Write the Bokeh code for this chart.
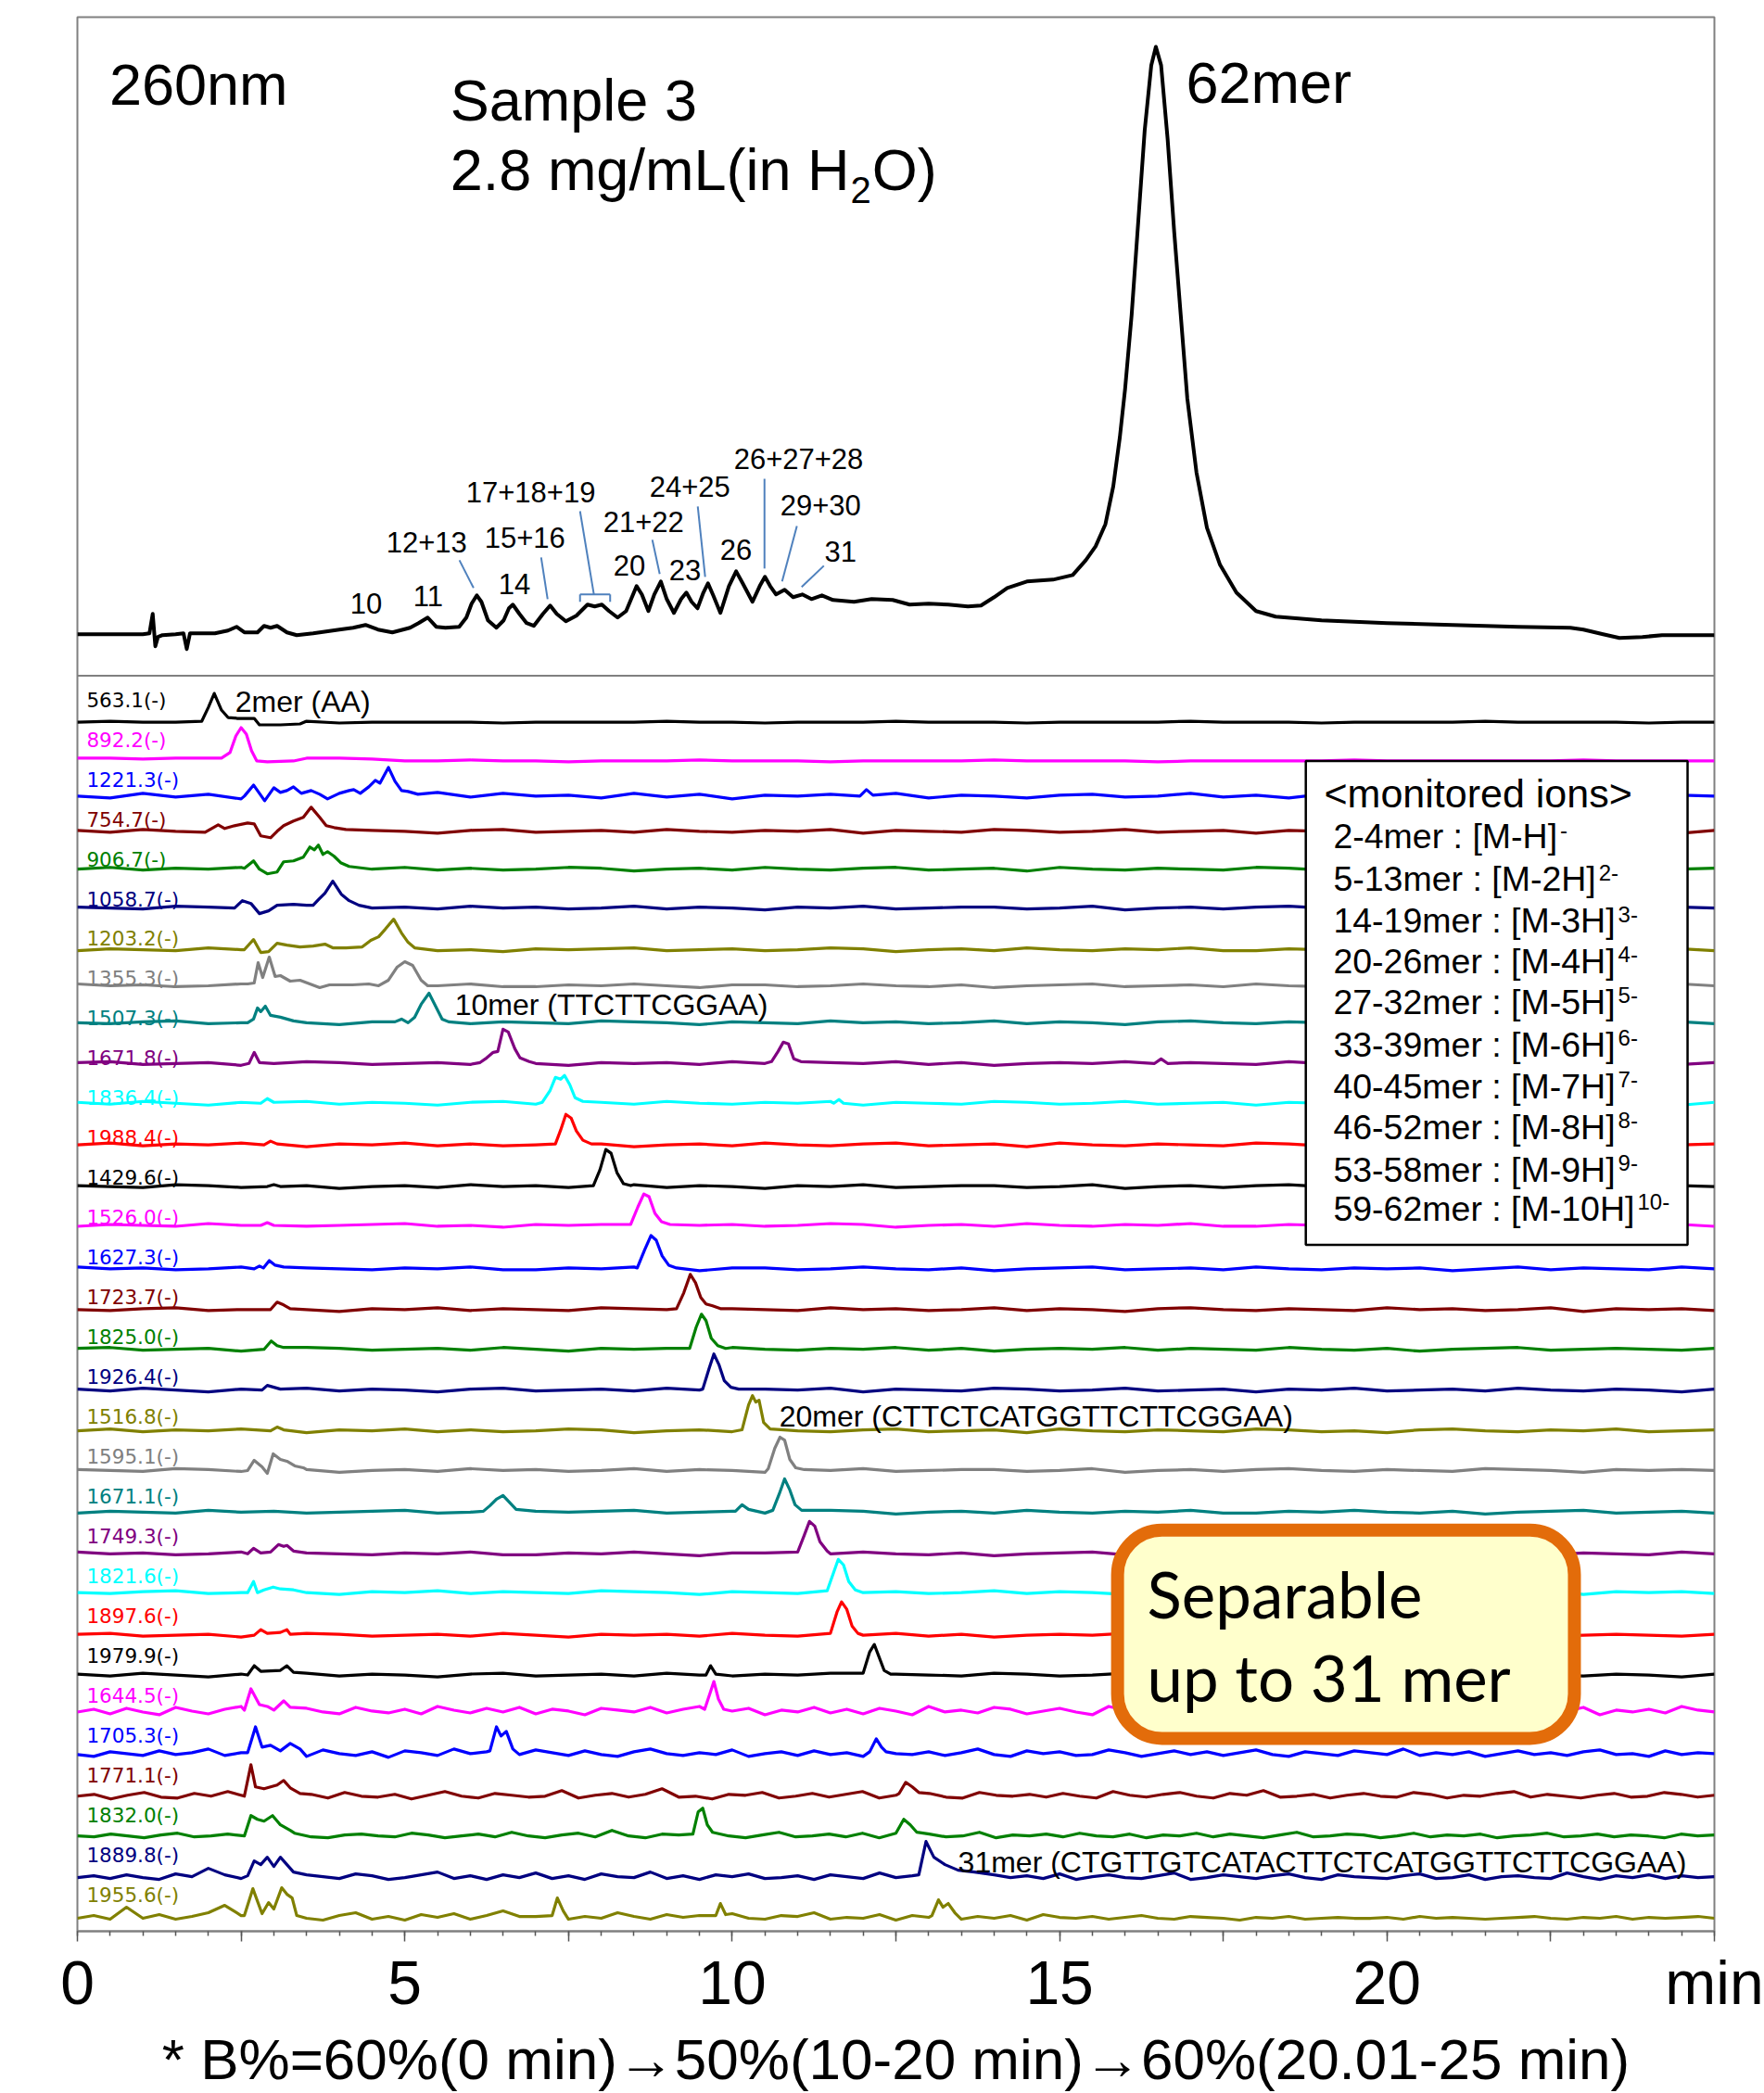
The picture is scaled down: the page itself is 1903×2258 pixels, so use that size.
import numpy as np
from bokeh.plotting import figure
from bokeh.models import Range1d, FixedTicker, Span, BoxAnnotation, Label, ColumnDataSource
from bokeh.core.properties import value
from bokeh.embed import file_html
from bokeh.resources import INLINE

# ---------------- UV 260 nm chromatogram (time in min, absorbance a.u.) ----------------
UV_TIME = [0.0, 0.5, 1.0, 1.1, 1.15, 1.19, 1.23, 1.3, 1.5, 1.62,
           1.67, 1.72, 1.9, 2.1, 2.3, 2.43, 2.55, 2.75, 2.85, 2.95,
           3.05, 3.2, 3.35, 3.6, 3.8, 4.0, 4.21, 4.40, 4.59, 4.81,
           5.08, 5.21, 5.35, 5.48, 5.62, 5.83, 5.94, 6.02, 6.10, 6.17,
           6.27, 6.40, 6.51, 6.59, 6.65, 6.75, 6.86, 6.97, 7.11, 7.22,
           7.32, 7.46, 7.62, 7.79, 7.90, 8.01, 8.12, 8.25, 8.38, 8.54,
           8.62, 8.72, 8.81, 8.91, 9.00, 9.11, 9.22, 9.30, 9.38, 9.47,
           9.56, 9.63, 9.71, 9.82, 9.95, 10.06, 10.16, 10.31, 10.42, 10.50,
           10.58, 10.67, 10.80, 10.93, 11.07, 11.21, 11.37, 11.54, 11.86, 12.13,
           12.45, 12.71, 13.0, 13.3, 13.6, 13.8, 14.0, 14.2, 14.5, 14.9,
           15.2, 15.4, 15.55, 15.7, 15.82, 15.92, 16.0, 16.1, 16.2, 16.3,
           16.4, 16.47, 16.55, 16.65, 16.75, 16.85, 16.95, 17.09, 17.25, 17.45,
           17.7, 18.0, 18.3, 19.0, 20.0, 21.0, 22.0, 22.8, 23.0, 23.3,
           23.55, 23.9, 24.2, 25.0]
UV_ABS = [0, 0, 0, 1, 22, -13, -3, -1, 0, 1,
          -16, 1, 1, 1, 4, 8, 2, 2, 9, 7,
          9, 2, -1, 1, 3, 5, 7, 10, 5, 2,
          7, 12, 18, 8, 7, 8, 18, 33, 42, 35,
          15, 7, 15, 28, 32, 22, 12, 9, 22, 31,
          22, 14, 20, 32, 30, 32, 25, 18, 25, 52,
          43, 25, 43, 57, 38, 23, 38, 45, 35, 28,
          45, 55, 42, 23, 52, 68, 55, 35, 52, 62,
          52, 43, 48, 40, 43, 38, 42, 37, 35, 38,
          37, 32, 33, 32, 30, 31, 40, 50, 57, 59,
          64, 80, 95, 119, 160, 213, 265, 345, 445, 545,
          615, 635, 615, 535, 435, 345, 255, 175, 115, 75,
          45, 25, 19, 15, 12, 10, 8, 7, 5, 0,
          -4, -3, -1, -1]

# ---------------- extracted ion chromatograms ----------------
ION_MZ = ["563.1(-)", "892.2(-)", "1221.3(-)", "754.7(-)", "906.7(-)", "1058.7(-)",
          "1203.2(-)", "1355.3(-)", "1507.3(-)", "1671.8(-)", "1836.4(-)", "1988.4(-)",
          "1429.6(-)", "1526.0(-)", "1627.3(-)", "1723.7(-)", "1825.0(-)", "1926.4(-)",
          "1516.8(-)", "1595.1(-)", "1671.1(-)", "1749.3(-)", "1821.6(-)", "1897.6(-)",
          "1979.9(-)", "1644.5(-)", "1705.3(-)", "1771.1(-)", "1832.0(-)", "1889.8(-)",
          "1955.6(-)"]

# peak segments, "time:intensity" pairs, segments separated by "|"
ION_PEAKS = [
    "1.9:1 2.0:16 2.09:31 2.2:13 2.3:5 2.45:4 2.7:4 2.78:-3 3.1:-3 3.4:-2",
    "2.2:2 2.33:8 2.42:26 2.5:35 2.58:28 2.66:10 2.74:-1 2.9:-2 3.3:-1",
    "2.55:0 2.69:12 2.78:3 2.86:-5 3.0:9 3.1:4 3.2:6 3.3:10 3.42:3 3.57:6 3.7:2 3.82:-3 4.0:3 4.15:6 4.22:7 4.32:3 4.45:10 4.55:17 4.62:14 4.75:31 4.85:16 4.95:6 5.05:5 5.2:2 | 11.95:0 12.05:7 12.15:1 | 22.3:0 22.4:5 22.5:0",
    "1.95:-1 2.05:3 2.15:7 2.25:3 2.4:6 2.6:9 2.7:8 2.8:-5 2.95:-7 3.05:0 3.15:6 3.3:11 3.45:15 3.57:26 3.7:15 3.8:6 3.92:4 4.1:2",
    "2.55:1 2.69:9 2.78:0 2.9:-5 3.05:-3 3.15:8 3.3:9 3.45:13 3.55:24 3.62:21 3.68:26 3.75:16 3.82:19 3.92:14 4.02:7 4.15:3",
    "2.4:0 2.52:8 2.65:5 2.78:-6 2.92:-3 3.05:3 3.3:4 3.5:3 3.6:3 3.68:9 3.78:16 3.9:29 4.03:15 4.15:8 4.3:3",
    "2.55:0 2.69:11 2.8:-3 2.92:-2 3.05:7 3.2:5 3.4:3 3.6:4 3.78:6 3.9:2 4.1:2 4.35:3 4.48:10 4.6:14 4.7:22 4.83:33 4.95:18 5.05:8 5.15:2",
    "2.6:2 2.7:3 2.76:25 2.83:9 2.93:31 3.02:10 3.1:11 3.25:5 3.4:6 3.55:2 3.7:-2 3.85:1 4.2:1 4.45:2 4.6:0 4.75:6 4.88:20 5.0:26 5.12:22 5.25:6 5.35:0",
    "2.6:0 2.69:4 2.75:16 2.8:12 2.87:18 2.95:8 3.1:6 3.3:2 | 4.85:1 4.95:4 5.05:0 5.15:6 5.25:20 5.37:32 5.47:18 5.57:4 5.67:1",
    "2.62:0 2.7:12 2.78:1 | 6.15:1 6.25:6 6.35:12 6.42:13 6.5:37 6.58:34 6.68:16 6.76:6 6.9:2 | 10.6:2 10.7:13 10.78:23 10.86:21 10.94:5 11.05:2 | 16.45:0 16.55:5 16.65:0",
    "2.8:0 2.9:5 3.0:1 | 7.1:1 7.22:14 7.3:28 7.38:26 7.44:30 7.52:20 7.6:6 7.72:2 | 11.55:0 11.63:4 11.7:0",
    "2.85:0 2.95:4 3.05:1 | 7.3:1 7.38:16 7.46:33 7.54:29 7.62:15 7.72:5 7.85:1",
    "2.9:0 3.0:2 3.1:0 | 7.88:1 7.98:18 8.07:40 8.15:36 8.24:15 8.34:3 8.45:1",
    "2.8:0 2.9:3 3.0:0 | 8.45:1 8.56:20 8.65:34 8.73:31 8.82:13 8.92:4 9.05:1",
    "2.7:0 2.78:3 2.84:1 2.93:9 3.02:4 3.15:2 | 8.55:1 8.66:20 8.76:36 8.84:31 8.93:14 9.03:4 9.15:1",
    "2.95:0 3.05:8 3.15:5 3.25:1 | 9.15:1 9.26:18 9.36:38 9.44:29 9.52:13 9.6:6 9.7:4 9.82:1",
    "2.85:0 2.96:9 3.05:4 3.15:2 | 9.35:1 9.45:24 9.53:38 9.6:31 9.68:12 9.78:4 9.9:1",
    "2.82:0 2.9:5 3.0:3 3.1:1 | 9.55:1 9.65:24 9.72:39 9.8:27 9.88:10 9.98:3 10.1:1",
    "2.95:0 3.05:4 3.15:1 | 10.15:1 10.25:28 10.31:38 10.36:31 10.41:33 10.48:9 10.58:2",
    "2.6:0 2.7:11 2.82:4 2.9:-3 2.99:18 3.1:12 3.2:10 3.32:5 3.45:3 | 10.55:2 10.65:24 10.73:36 10.8:33 10.88:12 10.97:3 11.1:1",
    "6.2:1 6.3:7 6.4:14 6.5:18 6.58:12 6.7:3 | 10.05:1 10.15:8 10.25:3 | 10.62:2 10.72:20 10.8:36 10.88:24 10.96:8 11.06:2",
    "2.6:0 2.69:6 2.8:1 2.95:2 3.07:10 3.15:8 3.2:9 3.3:3 | 11.0:2 11.1:20 11.18:35 11.26:30 11.34:13 11.45:3",
    "2.6:0 2.69:12 2.75:0 2.85:3 2.99:6 3.1:4 3.3:3 | 11.45:2 11.55:22 11.62:36 11.7:30 11.78:12 11.88:3",
    "2.7:0 2.8:6 2.9:2 3.1:3 3.2:6 3.25:1 | 11.5:2 11.6:25 11.67:36 11.75:28 11.83:10 11.92:2",
    "2.6:0 2.7:10 2.8:4 3.1:5 3.2:10 3.3:3 | 9.6:0 9.67:10 9.75:1 | 12.0:2 12.1:25 12.17:33 12.24:20 12.32:5 12.42:1",
    "2.55:2 2.65:25 2.78:8 2.9:6 | 3.15:12 3.25:5 | 9.58:3 9.66:20 9.72:33 9.79:14 9.87:3",
    "2.6:2 2.72:30 2.82:8 2.95:10 3.1:4 3.25:12 3.4:6 | 6.3:4 6.4:30 6.47:20 6.55:25 6.65:6 | 12.1:3 12.2:17 12.28:8 12.35:3",
    "2.55:0 2.65:34 2.72:10 2.85:8 3.05:12 3.15:17 3.25:9 3.4:3 | 12.55:3 12.65:15 12.75:10 12.85:4",
    "2.55:0 2.65:22 2.75:18 2.85:16 2.98:22 3.1:12 3.25:6 | 9.4:2 9.48:26 9.55:30 9.62:12 9.7:4 | 12.5:3 12.62:18 12.72:12 12.82:4",
    "2.6:2 2.7:18 2.8:14 2.9:22 3.0:12 3.1:22 3.2:14 3.3:6 | 12.85:3 12.96:39 13.08:22 13.25:14 13.45:8 13.7:6 14.0:3",
    "2.55:3 2.68:32 2.82:5 2.92:17 3.0:10 3.12:33 3.2:26 3.28:22 3.35:3 | 7.25:3 7.33:22 7.42:8 | 9.75:3 9.82:16 9.9:4 | 13.05:3 13.15:20 13.22:12 13.3:16 13.4:6",
]

# baseline noise (evenly spaced over 0-25 min)
NOISE = [
    "0 1 0 0 1 0 0 1 -1 0 0 0 0 -1 0 0 0 0 1 0 0 -1 0 0 0 1 0 0 0 -1 0 0 0 0 1 0 0 0 -1 0 0 0 0 1 0 0 0 0 -1 0 0",
    "1 -1 2 0 -2 1 0 2 -1 1 0 -2 1 2 -1 0 1 -1 2 0 -1 1 0 2 -2 1 0 -1 2 1 -1 0 2 -1 0 1 -2 1 0 2 -1 0 1 -1 2 0 -1 1 0 -2 1",
    "0 2 -1 1 0 2 -1 -2 1 0 2 -1 1 -1 0 2 1 -2 0 1 -1 2 0 -1 1 2 -1 0 1 -2 2 0 -1 1 0 -1 2 1 -1 0 -2 1 2 0 -1 1 0 2 -1 0 1",
    "1 0 -1 2 1 -1 0 1 -2 0 1 -1 2 0 1 -1 0 2 -1 1 0 -2 1 0 2 -1 0 1 1 -1 0 2 -2 0 1 -1 1 2 0 -1 1 0 -1 2 1 0 -2 1 0 1 0",
    "-1 1 0 -1 2 0 1 -1 0 1 2 -1 0 -2 1 0 1 2 -1 0 1 -1 0 2 1 -2 0 1 -1 2 0 -1 1 0 2 -1 -1 1 0 2 0 -1 1 -2 0 1 2 -1 0 1 -1",
    "2 0 1 -1 0 2 -1 1 0 -1 1 0 2 -1 -1 1 0 2 0 -2 1 1 -1 0 2 0 -1 1 -2 0 1 2 -1 0 1 -1 2 0 -1 1 0 1 -2 0 2 -1 1 0 -1 2 0",
    "0 -1 1 2 -1 0 1 0 -2 1 0 2 -1 1 0 -1 2 1 0 -2 1 0 -1 2 0 1 -1 0 2 -1 1 0 -2 1 2 0 -1 1 0 -1 2 0 1 -1 0 2 -2 1 0 1 -1",
    "1 2 -1 0 1 -2 0 2 1 -1 0 1 -1 2 0 -2 1 0 1 -1 2 0 -1 1 0 2 -1 1 -2 0 1 0 2 -1 1 0 -1 2 0 -1 1 -2 0 1 2 -1 0 1 0 -1 1",
    "2 2 1 2 2 1 2 2 2 1 -1 -1 0 -1 -1 -2 -1 -1 -1 0 -1 -1 -1 -2 -1 -1 -1 -1 0 -1 -1 -1 -1 -2 -1 -1 -1 -1 -1 0 -1 -1 -1 -1 -1 -1 0 -1 -1 -1 -1",
    "0 -2 3 -1 2 -3 2 -1 1 -3 1 4 -1 3 0 1 -2 3 -1 2 -3 1 0 2 -1 3 -2 1 0 -2 1 2 -1 0 3 -1 1 -2 2 0 -1 2 -1 1 3 -2 0 2 -1 1 0",
    "0 3 -2 4 0 -3 5 1 -2 3 6 -1 2 -3 4 0 -2 5 1 -1 3 -2 6 2 -1 4 0 5 -2 3 1 -3 4 2 0 5 -1 3 6 -2 1 4 -3 2 0 5 -1 3 -2 4 1 -3 6 0 2 -1 5 3 -2 1 4 0 -3 6 2 -1 3 5 -2 0 4 1 -3 2 6 0 -1 3 -2 5 1 4 -3 0 2 6 -1 3 0 -2 4 1 5 -3 2 0 3 -1 6 2 0",
    "0 -2 3 1 -1 4 0 2 6 -1 2 12 3 0 -2 5 1 -1 3 -3 4 2 -1 6 1 3 -2 0 5 2 -1 4 0 -2 3 6 1 -1 2 0 5 -2 1 3 -1 4 0 2 -2 5 1 0 3 -1 2 6 0 -2 4 1 3 -1 0 5 2 -2 1 4 0 3 -1 2 5 0 -2 3 1 -1 4 2 0 6 -1 2 0 3 -2 1 4 0 2 -1 3 5 0 1 -2 4 0 2 1",
    "0 2 -3 1 4 -1 -2 3 0 5 -2 1 -1 3 2 -2 4 0 -1 2 -3 1 5 0 -2 3 1 -1 0 6 -2 1 3 -1 2 8 -1 0 -3 2 1 4 -2 0 3 -1 2 5 -2 1 0 3 -1 -2 4 1 0 2 -1 3 0 -2 5 1 -1 2 4 0 -2 3 1 6 -1 0 2 -2 1 3 0 -1 4 2 -2 1 0 3 5 -1 2 0 -2 1 3 -1 0 4 2 -1 1",
    "0 -1 2 0 -2 1 3 -1 0 2 -2 1 0 3 -1 -2 1 2 0 -1 3 1 -2 0 2 -1 4 0 -2 1 3 -1 6 0 -2 2 1 -1 3 0 -2 1 4 -1 0 2 -1 3 -2 0 1 2 -1 0 4 -2 1 0 2 -1 3 0 -1 2 -2 1 0 3 -1 2 0 -2 1 4 -1 0 2 1 -2 0 3 -1 1 0 2 -2 0 1 3 -1 0 2 -1 1 0 -2 2 0 1",
    "0 2 -1 3 0 -2 4 1 10 3 -1 2 0 -2 3 1 -1 4 2 -2 0 3 6 -1 2 -2 3 0 5 -1 2 -2 4 1 0 6 -1 2 -2 3 1 4 -1 0 2 -2 3 1 -1 5 0 2 -2 4 1 -1 3 0 2 -1 4 -2 1 3 0 -1 2 5 -2 0 3 1 -1 2 4 0 -2 3 1 0 -1 2 4 -1 0 3 -2 1 2 0 -1 5 1 -2 2 0 3 -1 2 0 1",
    "0 3 -1 12 0 4 -1 2 6 14 3 -1 2 5 0 -2 3 6 -1 2 -2 4 1 5 -1 3 8 2 2 16 -1 2 0 6 2 -1 4 1 3 -2 5 0 -1 3 2 6 -1 1 0 4 -2 3 1 5 -1 2 0 3 -2 4 1 0 2 -1 1 3 0 -1 2 1 0 -2 1 0 2 -1 0 1 0 0 1 -1 2 0 1 0 -1 0 1 2 0 -1 1 0 2 -1 1 0 1 2 0",
]
TRACE_NOISE = [0, 8, 9, 1, 2, 3, 4, 5, 6, 7, 1, 2, 3, 4, 5, 6, 7, 1, 2, 3, 4, 5, 6, 7, 1,
               10, 11, 12, 13, 14, 15]

# ---------------- annotation texts ----------------
PEAK_LABELS = ["10", "11", "12+13", "14", "15+16", "17+18+19", "20", "21+22", "23",
               "24+25", "26", "26+27+28", "29+30", "31"]
MER_LABELS = ["2mer (AA)", "10mer (TTCTTCGGAA)", "20mer (CTTCTCATGGTTCTTCGGAA)",
              "31mer (CTGTTGTCATACTTCTCATGGTTCTTCGGAA)"]
LEGEND_TITLE = "<monitored ions>"
LEGEND_LINES = ["2-4mer : [M-H]", "5-13mer : [M-2H]", "14-19mer : [M-3H]", "20-26mer : [M-4H]",
                "27-32mer : [M-5H]", "33-39mer : [M-6H]", "40-45mer : [M-7H]", "46-52mer : [M-8H]",
                "53-58mer : [M-9H]", "59-62mer : [M-10H]"]
LEGEND_CHARGES = ["-", "2-", "3-", "4-", "5-", "6-", "7-", "8-", "9-", "10-"]
X_TICK_LABELS = {0: "0", 5: "5", 10: "10", 15: "15", 20: "20", 25: "min"}
FOOTNOTE = "* B%=60%(0 min)\u219250%(10-20 min)\u219260%(20.01-25 min)"

# ---------------- layout / style ----------------
PALETTE = ["black", "#FF00FF", "#0000FF", "#800000", "#008000", "#000080",
           "#808000", "#808080", "#008080", "#800080", "#00FFFF", "#FF0000"]
OFFSETS = [1307, 1266, 1227, 1189, 1148, 1106, 1061, 1022, 982, 938, 895, 850, 805, 763, 716,
           672, 629, 585, 541, 498, 453, 408, 366, 320, 277, 237, 191, 146, 103, 58, 14]
UV_BASE = 1402
FONT = "Liberation Sans"
CAPH = 0.358  # half cap height (em) -> convert a baseline position to a "middle" anchor

# Arial/Liberation Sans advance widths (em) for the characters used in the inline sub/superscripts
ARIAL_W = {**{d: 0.556 for d in "0123456789"}, "-": 0.333, "m": 0.833, "e": 0.556, "r": 0.333,
           " ": 0.278, ":": 0.278, "[": 0.278, "]": 0.278, "M": 0.833, "H": 0.722, ".": 0.278,
           "/": 0.278, "g": 0.556, "L": 0.556, "(": 0.333, ")": 0.333, "i": 0.222, "n": 0.556,
           "O": 0.778}


def text_w(s, fs):
    return sum(ARIAL_W.get(c, 0.556) for c in s) * fs


def build_trace(noise_str, peak_str):
    nv = [float(v) for v in noise_str.split()]
    step = 25.0 / (len(nv) - 1)
    segs = []
    for seg in peak_str.split("|"):
        seg = seg.strip()
        if seg:
            segs.append([tuple(float(a) for a in tok.split(":")) for tok in seg.split()])
    pts = []
    for k, v in enumerate(nv):
        t = k * step
        if any(s[0][0] - 0.03 <= t <= s[-1][0] + 0.03 for s in segs):
            continue
        pts.append((t, v))
    for s in segs:
        pts.extend(s)
    pts.sort()
    return [a for a, _ in pts], [b for _, b in pts]


p = figure(width=1903, height=2258, x_range=Range1d(0, 25), y_range=Range1d(0, 2069),
           output_backend="svg", toolbar_location=None, y_axis_location=None,
           min_border_left=83, min_border_right=54, min_border_top=18, min_border_bottom=171)
p.xgrid.visible = False
p.ygrid.visible = False
p.outline_line_color = "#808080"
p.outline_line_width = 2
p.background_fill_color = "white"
p.border_fill_color = "white"

ax = p.xaxis[0]
ax.ticker = FixedTicker(ticks=[0, 2.5, 5, 7.5, 10, 12.5, 15, 17.5, 20, 22.5, 25],
                        minor_ticks=[k * 0.5 for k in range(51)])
overrides = {2.5: "", 7.5: "", 12.5: "", 17.5: "", 22.5: ""}
overrides.update(X_TICK_LABELS)
ax.major_label_overrides = overrides
ax.axis_line_color = "#808080"
ax.axis_line_width = 2
ax.major_tick_line_color = "#555555"
ax.major_tick_line_width = 1.5
ax.major_tick_out = 11
ax.major_tick_in = 0
ax.minor_tick_line_color = "#555555"
ax.minor_tick_line_width = 1.5
ax.minor_tick_out = 5
ax.minor_tick_in = 0
ax.major_label_text_font = FONT
ax.major_label_text_font_size = "66px"
ax.major_label_text_color = "black"
ax.major_label_standoff = 7
ax.axis_label = FOOTNOTE
ax.axis_label_text_font = FONT
ax.axis_label_text_font_size = "62px"
ax.axis_label_text_font_style = "normal"
ax.axis_label_text_color = "black"
ax.axis_label_standoff = 8

# divider between UV panel and MS panel
p.add_layout(Span(location=1357, dimension="width", line_color="#808080", line_width=2))

# UV chromatogram
p.line(UV_TIME, np.array(UV_ABS) + UV_BASE, line_color="black", line_width=4, line_join="round")

# extracted ion chromatograms
xs, ys, cols = [], [], []
for i in range(len(ION_MZ)):
    tx, hy = build_trace(NOISE[TRACE_NOISE[i]], ION_PEAKS[i])
    xs.append(tx)
    ys.append(list(np.array(hy) + OFFSETS[i]))
    cols.append(PALETTE[i % len(PALETTE)])
p.multi_line(xs=xs, ys=ys, line_color=cols, line_width=3.2, line_join="round")

# trace labels
lab_src = ColumnDataSource(dict(x=[0.14] * len(ION_MZ),
                                y=[1331 - 43.07 * i for i in range(len(ION_MZ))],
                                text=ION_MZ, color=cols))
p.text(x="x", y="y", text="text", text_color="color", source=lab_src,
       text_font=value("DejaVu Sans"), text_font_size="21.5px",
       text_baseline="middle", text_align="left")

# mer labels on the MS traces
p.text(x=[2.41, 5.765, 10.72, 13.45], y=[1329, 1001, 557, 75], text=MER_LABELS,
       text_font=value(FONT), text_font_size="32px", text_baseline="middle",
       text_align="left", text_color="black")

# UV panel texts (63 px)
FS_UV = 63
p.text(x=[0.487, 5.695, 5.695, 16.93],
       y=[1974 + CAPH * FS_UV, 1957 + CAPH * FS_UV, 1882 + CAPH * FS_UV, 1976 + CAPH * FS_UV],
       text=["260nm", "Sample 3", "2.8 mg/mL(in H", "62mer"],
       text_font=value(FONT), text_font_size=f"{FS_UV}px", text_baseline="middle",
       text_align="left", text_color="black")
sub_dx = text_w("2.8 mg/mL(in H", FS_UV) + 1
p.text(x=[5.695], y=[1868 + CAPH * 40], text=["2"], x_offset=sub_dx, text_font=value(FONT),
       text_font_size="40px", text_baseline="middle", text_align="left", text_color="black")
p.text(x=[5.695], y=[1882 + CAPH * FS_UV], text=["O)"], x_offset=sub_dx + text_w("2", 40) + 1,
       text_font=value(FONT), text_font_size=f"{FS_UV}px", text_baseline="middle",
       text_align="left", text_color="black")

# peak number labels and leader lines
FS_PK = 31
p.text(x=[4.166, 5.128, 4.718, 6.43, 6.218, 5.935, 8.185, 8.03, 9.035, 8.737, 9.813, 10.025, 10.733, 11.41],
       y=[v + CAPH * FS_PK for v in
          [1424, 1432, 1490, 1445, 1495, 1544, 1465, 1512, 1460, 1550, 1482, 1580, 1530, 1480]],
       text=PEAK_LABELS, text_font=value(FONT), text_font_size=f"{FS_PK}px",
       text_baseline="middle", text_align="left", text_color="black")
p.segment(x0=[5.834, 7.082, 7.676, 7.676, 7.676, 8.136, 8.78, 9.474, 10.493, 10.988, 11.4],
          y0=[1482, 1485, 1535, 1445, 1445, 1445, 1504, 1540, 1570, 1519, 1476],
          x1=[6.05, 7.181, 7.888, 8.136, 7.676, 8.136, 8.893, 9.587, 10.493, 10.762, 11.06],
          y1=[1452, 1440, 1445, 1445, 1437, 1437, 1467, 1464, 1473, 1459, 1453],
          line_color="#4F81BD", line_width=2)

# legend box of monitored ions
p.add_layout(BoxAnnotation(left=18.76, right=24.59, top=1265, bottom=742,
                           fill_color="white", fill_alpha=1.0, line_color="black",
                           line_width=2.5, line_alpha=1.0))
p.add_layout(Label(x=19.04, y=1214 + CAPH * 43, text=LEGEND_TITLE, text_font=FONT,
                   text_font_size="43px", text_baseline="middle", text_align="left",
                   text_color="black"))
LEG_Y = [1170, 1124, 1079, 1035, 991, 945, 900, 856, 810, 768]
FS_LEG = 37.5
FS_SUP = 24
for line_txt, chg, yy in zip(LEGEND_LINES, LEGEND_CHARGES, LEG_Y):
    p.add_layout(Label(x=19.18, y=yy + CAPH * FS_LEG, text=line_txt, text_font=FONT,
                       text_font_size=f"{FS_LEG}px", text_baseline="middle", text_align="left",
                       text_color="black"))
    p.add_layout(Label(x=19.18, y=yy + 12 + CAPH * FS_SUP, x_offset=text_w(line_txt, FS_LEG) + 3,
                       text=chg, text_font=FONT, text_font_size=f"{FS_SUP}px",
                       text_baseline="middle", text_align="left", text_color="black"))

# "Separable up to 31 mer" callout
p.add_layout(BoxAnnotation(left=15.885, right=22.862, top=433.5, bottom=208.5,
                           fill_color="#FFFFCC", fill_alpha=1.0, line_color="#E36C0A",
                           line_width=14, line_alpha=1.0, border_radius=48))
p.add_layout(Label(x=16.337, y=340 + 0.36 * 69, text="Separable", text_font="Lato",
                   text_font_size="69px", text_baseline="middle", text_align="left",
                   text_color="black"))
p.add_layout(Label(x=16.337, y=250 + 0.36 * 69, text="up to 31 mer", text_font="Lato",
                   text_font_size="69px", text_baseline="middle", text_align="left",
                   text_color="black"))

open("out.html", "w").write(file_html(p, INLINE))
